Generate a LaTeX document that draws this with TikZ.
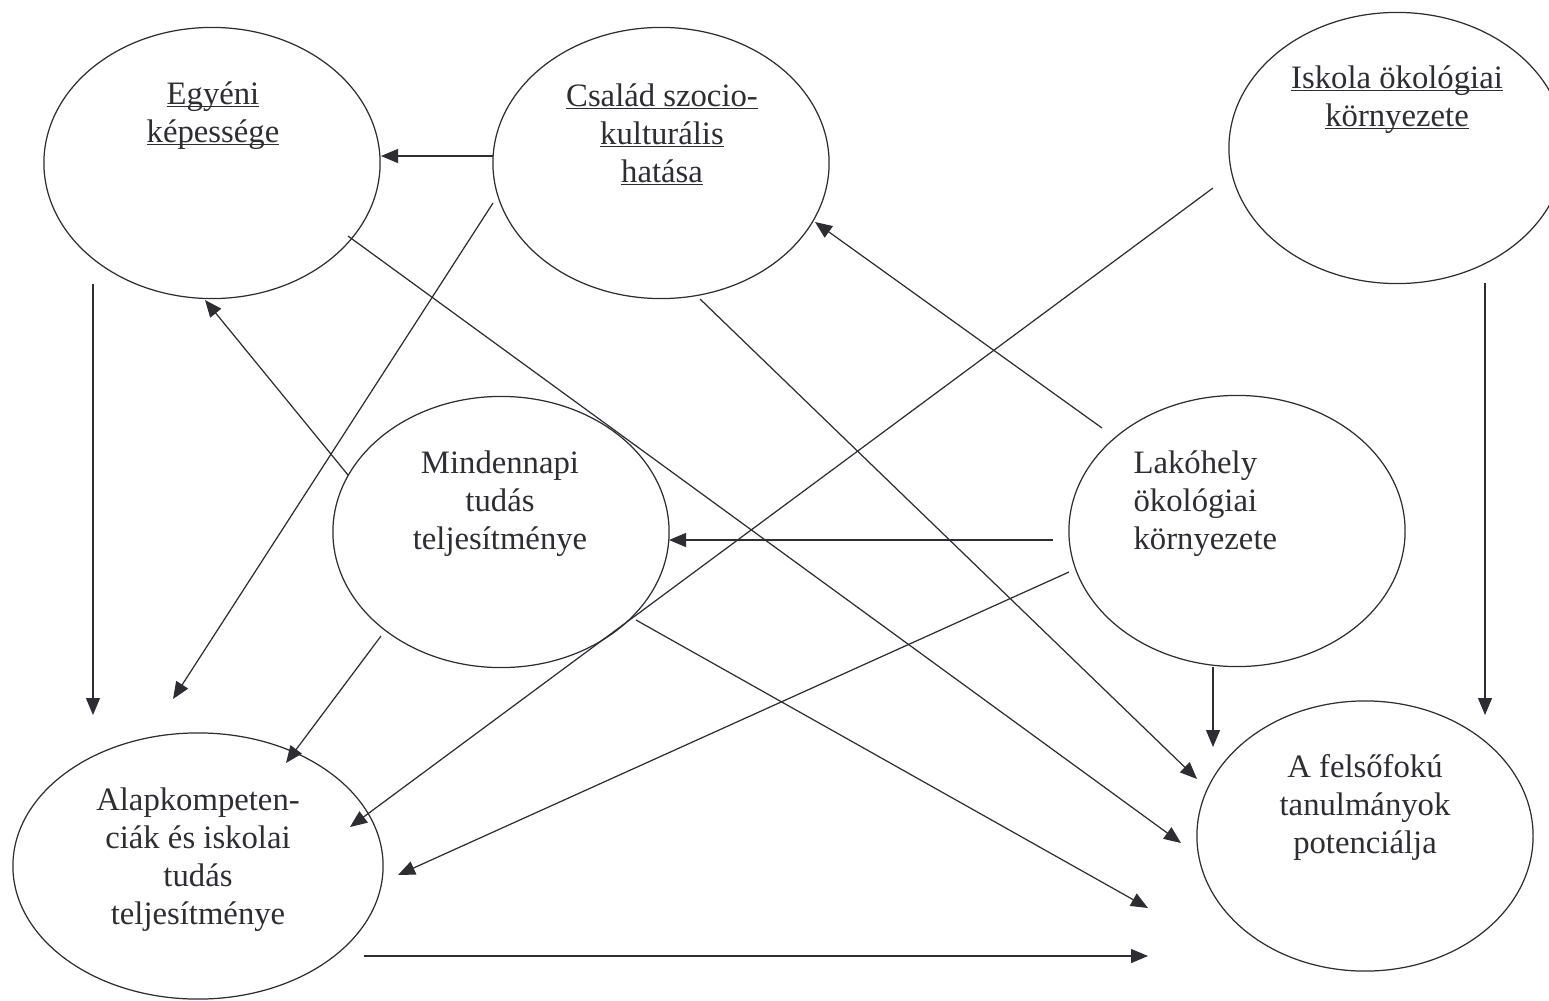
\documentclass[tikz,border=0pt]{standalone}
\usepackage{fontspec}
\setmainfont{Liberation Serif}
\usetikzlibrary{arrows.meta,shapes.geometric}
\definecolor{ink}{RGB}{45,45,50}
\newcommand{\ulword}[1]{\setbox0\hbox{#1}\rlap{\rule[-0.7pt]{\wd0}{0.35pt}}\box0}

\begin{document}
\begin{tikzpicture}[x=0.01cm, y=-0.01cm, >={Triangle[length=1.7mm,width=1.4mm]}, line width=0.35pt, ink]
    \tikzstyle{oval} = [ellipse, draw, inner sep=0, minimum width=3.36cm, minimum height=2.71cm]
    \tikzstyle{ovtext} = [align=center, inner sep=0, font=\fontsize{9.3}{10.8}\selectfont]
    \useasboundingbox (0,0) rectangle (1549,1000);
    \clip (0,0) rectangle (1549,1000);

    % the seven factors
    \node [oval] (egyeni) at (212,163) {};
    \node [oval] (csalad) at (661,163) {};
    \node [oval] (iskola) at (1397,148) {};
    \node [oval] (minden) at (501,532) {};
    \node [oval] (lakohely) at (1237,531) {};
    \node [oval, minimum width=3.70cm, minimum height=2.66cm] (alap) at (198,866) {};
    \node [oval, minimum height=2.70cm] (felso) at (1365,836) {};

    \node [ovtext] (egyeni-t) at (213,116) {\ulword{Egyéni}\strut\\\ulword{képessége}\strut};
    \node [ovtext] (csalad-t) at (662,137) {\ulword{Család szocio-}\strut\\\ulword{kulturális}\strut\\\ulword{hatása}\strut};
    \node [ovtext] (iskola-t) at (1397,100) {\ulword{Iskola ökológiai}\strut\\\ulword{környezete}\strut};
    \node [ovtext] (minden-t) at (500,504) {Mindennapi\strut\\tudás\strut\\teljesítménye\strut};
    \node [ovtext, align=left, anchor=west] (lakohely-t) at (1133,504) {Lakóhely\strut\\ökológiai\strut\\környezete\strut};
    \node [ovtext] (alap-t) at (198,860) {Alapkompeten-\strut\\ciák és iskolai\strut\\tudás\strut\\teljesítménye\strut};
    \node [ovtext] (felso-t) at (1365,808) {A felsőfokú\strut\\tanulmányok\strut\\potenciálja\strut};

    % loose ends of the arrows
    \coordinate (cs-e) at (493,156);   \coordinate (eg-c) at (381,156);
    \coordinate (eg-a) at (93,284);    \coordinate (al-e) at (93,715);
    \coordinate (cs-a) at (493,203);   \coordinate (al-c) at (173,699);
    \coordinate (eg-f) at (348,236);   \coordinate (fe-e) at (1181,843);
    \coordinate (cs-f) at (700,299);   \coordinate (fe-c) at (1197,779);
    \coordinate (mi-e) at (348,475);   \coordinate (eg-m) at (205,300);
    \coordinate (mi-a) at (381,636);   \coordinate (al-m) at (286,763);
    \coordinate (mi-f) at (636,620);   \coordinate (fe-m) at (1148,908);
    \coordinate (is-a) at (1213,188);  \coordinate (al-i) at (350,827);
    \coordinate (is-f) at (1485,283);  \coordinate (fe-i) at (1485,715);
    \coordinate (la-c) at (1102,428);  \coordinate (cs-l) at (815,222);
    \coordinate (la-m) at (1053,540);  \coordinate (mi-l) at (669,540);
    \coordinate (la-a) at (1069,572);  \coordinate (al-l) at (398,875);
    \coordinate (la-f) at (1213,667);  \coordinate (fe-l) at (1213,747);
    \coordinate (al-f) at (364,956);   \coordinate (fe-a) at (1148,956);

    \draw [->] (cs-e) -- (eg-c);
    \draw [->] (eg-a) -- (al-e);
    \draw [->] (cs-a) -- (al-c);
    \draw [->] (eg-f) -- (fe-e);
    \draw [->] (cs-f) -- (fe-c);
    \draw [->] (mi-e) -- (eg-m);
    \draw [->] (mi-a) -- (al-m);
    \draw [->] (mi-f) -- (fe-m);
    \draw [->] (is-a) -- (al-i);
    \draw [->] (is-f) -- (fe-i);
    \draw [->] (la-c) -- (cs-l);
    \draw [->] (la-m) -- (mi-l);
    \draw [->] (la-a) -- (al-l);
    \draw [->] (la-f) -- (fe-l);
    \draw [->] (al-f) -- (fe-a);
\end{tikzpicture}
\end{document}
